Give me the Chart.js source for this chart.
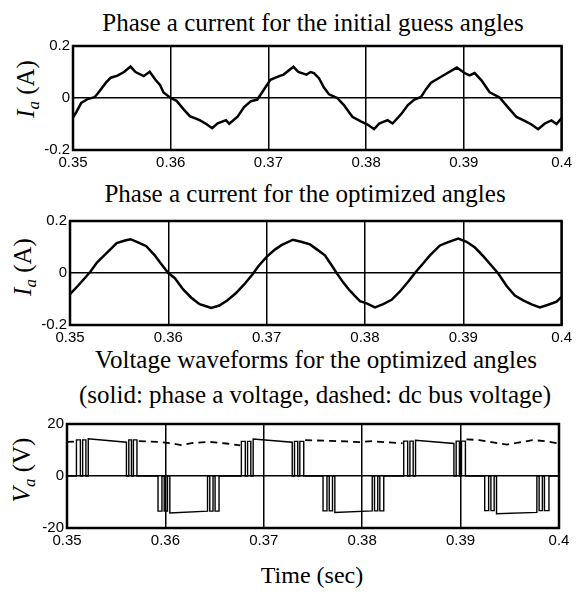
<!DOCTYPE html>
<html>
<head>
<meta charset="utf-8">
<script src="https://cdn.jsdelivr.net/npm/chart.js@4.4.1/dist/chart.umd.min.js"></script>
<style>
  html, body { margin: 0; padding: 0; background: #fff; }
  #page { position: relative; width: 576px; height: 594px; overflow: hidden; font-family: "Liberation Serif", serif; color: #000; }
  .title { position: absolute; width: 576px; text-align: center; font-size: 25px; line-height: 25px; white-space: nowrap; }
  .box { position: absolute; left: 0; width: 576px; height: 140px; }
  .ylab { position: absolute; font-size: 25px; line-height: 25px; white-space: nowrap; transform: translate(-50%, -50%) rotate(-90deg); }
  .ylab sub { font-size: 17px; vertical-align: -5px; line-height: 0; }
</style>
</head>
<body>
<div id="page">
  <div class="title" style="left:25px; top:10px;">Phase a current for the initial guess angles</div>
  <div class="title" style="left:17px; top:181px;">Phase a current for the optimized angles</div>
  <div class="title" style="left:28px; top:347px;">Voltage waveforms for the optimized angles</div>
  <div class="title" style="left:27px; top:382px;">(solid: phase a voltage, dashed: dc bus voltage)</div>
  <div class="title" style="left:24px; top:563px; font-size:24px; line-height:24px;">Time (sec)</div>

  <div class="ylab" style="left:25px; top:89px;"><i>I</i><sub><i>a</i></sub> (A)</div>
  <div class="ylab" style="left:22px; top:267px;"><i>I</i><sub><i>a</i></sub> (A)</div>
  <div class="ylab" style="left:21px; top:470px;"><i>V</i><sub><i>a</i></sub> (V)</div>

  <div class="box" style="top:34px;"><canvas id="c1" width="576" height="140"></canvas></div>
  <div class="box" style="top:209px;"><canvas id="c2" width="576" height="140"></canvas></div>
  <div class="box" style="top:412px;"><canvas id="c3" width="576" height="140"></canvas></div>
</div>

<script>
// --- Daten ---
const xTicks = [0.35, 0.36, 0.37, 0.38, 0.39, 0.4];
const iTicks = [-0.2, 0, 0.2];
const vTicks = [-20, 0, 20];

// Phase a current, initial guess angles
const guessT = [0.35000, 0.35034, 0.35084, 0.35150, 0.35220, 0.35253, 0.35337, 0.35387, 0.35455, 0.35522,
  0.35589, 0.35640, 0.35724, 0.35785, 0.35842, 0.35892, 0.35926, 0.36000, 0.36060, 0.36128,
  0.36195, 0.36296, 0.36364, 0.36424, 0.36481, 0.36566, 0.36599, 0.36684, 0.36751, 0.36818,
  0.36886, 0.36936, 0.37020, 0.37104, 0.37155, 0.37256, 0.37306, 0.37390, 0.37431, 0.37466,
  0.37517, 0.37568, 0.37620, 0.37705, 0.37774, 0.37859, 0.37945, 0.38014, 0.38082, 0.38134,
  0.38219, 0.38270, 0.38356, 0.38425, 0.38493, 0.38562, 0.38613, 0.38664, 0.38750, 0.38836,
  0.38928, 0.39007, 0.39058, 0.39110, 0.39178, 0.39264, 0.39366, 0.39452, 0.39538, 0.39623,
  0.39692, 0.39760, 0.39829, 0.39897, 0.39949, 0.40000];
const guessI = [-0.075, -0.054, -0.019, -0.004, 0.003, 0.017, 0.059, 0.078, 0.086, 0.100,
  0.121, 0.100, 0.084, 0.101, 0.071, 0.049, 0.021, 0.000, -0.011, -0.042,
  -0.070, -0.085, -0.100, -0.116, -0.097, -0.085, -0.099, -0.072, -0.035, -0.013,
  -0.006, 0.022, 0.070, 0.083, 0.090, 0.120, 0.100, 0.090, 0.100, 0.096,
  0.076, 0.040, 0.014, 0.000, -0.028, -0.072, -0.090, -0.102, -0.120, -0.098,
  -0.085, -0.098, -0.063, -0.028, -0.006, 0.004, 0.034, 0.059, 0.078, 0.097,
  0.117, 0.096, 0.087, 0.096, 0.069, 0.022, 0.002, -0.036, -0.073, -0.088,
  -0.102, -0.120, -0.098, -0.086, -0.100, -0.077];

// Phase a current, optimized angles
const optT = [0.35000, 0.35074, 0.35140, 0.35207, 0.35274, 0.35340, 0.35408, 0.35475, 0.35559, 0.35615,
  0.35692, 0.35776, 0.35860, 0.35926, 0.36000, 0.36067, 0.36151, 0.36234, 0.36318, 0.36385,
  0.36435, 0.36519, 0.36602, 0.36686, 0.36769, 0.36853, 0.36920, 0.37000, 0.37084, 0.37151,
  0.37268, 0.37351, 0.37441, 0.37525, 0.37593, 0.37661, 0.37712, 0.37780, 0.37847, 0.37949,
  0.38017, 0.38102, 0.38186, 0.38271, 0.38356, 0.38441, 0.38508, 0.38576, 0.38661, 0.38763,
  0.38847, 0.38949, 0.39034, 0.39119, 0.39203, 0.39288, 0.39356, 0.39441, 0.39525, 0.39610,
  0.39695, 0.39779, 0.39864, 0.39949, 0.40000];
const optI = [-0.081, -0.052, -0.024, 0.005, 0.040, 0.065, 0.090, 0.115, 0.125, 0.130,
  0.118, 0.103, 0.069, 0.036, 0.000, -0.020, -0.063, -0.095, -0.120, -0.128,
  -0.134, -0.125, -0.105, -0.078, -0.045, -0.007, 0.028, 0.062, 0.090, 0.107,
  0.128, 0.120, 0.110, 0.087, 0.068, 0.030, 0.000, -0.037, -0.068, -0.108,
  -0.117, -0.132, -0.120, -0.103, -0.071, -0.033, 0.000, 0.030, 0.068, 0.106,
  0.119, 0.132, 0.120, 0.098, 0.065, 0.028, -0.002, -0.050, -0.087, -0.105,
  -0.121, -0.132, -0.122, -0.110, -0.092];

// Phase a voltage: switching instants of each half cycle (s)
const vaSwitchTimes = [
  [0.35096, 0.35136, 0.35159, 0.35192, 0.35216, 0.35604, 0.35628, 0.35655, 0.35675, 0.35711],
  [0.35925, 0.35965, 0.35988, 0.36021, 0.36045, 0.36428, 0.36451, 0.36484, 0.36505, 0.36545],
  [0.36772, 0.36812, 0.36835, 0.36868, 0.36892, 0.37289, 0.37312, 0.37345, 0.37366, 0.37406],
  [0.37602, 0.37642, 0.37665, 0.37698, 0.37722, 0.38102, 0.38125, 0.38158, 0.38179, 0.38219],
  [0.38422, 0.38462, 0.38485, 0.38518, 0.38542, 0.38932, 0.38955, 0.38988, 0.39009, 0.39049],
  [0.39245, 0.39285, 0.39308, 0.39341, 0.39365, 0.39775, 0.39798, 0.39831, 0.39852, 0.39898]
];
const vaPulseLevel = [13.9, -13.5, 13.3, -13.4, 13.4, -13.3];
const vaPlateauStart = [14.3, -14.2, 14.2, -14.0, 13.7, -14.5];
const vaPlateauEnd = [13.0, -13.5, 13.0, -13.4, 12.5, -14.0];

// DC bus voltage (dashed), null = hidden behind the positive pulses
const busT = [0.3500, 0.3508, 0.3510, 0.3573, 0.3594, 0.3607, 0.3616, 0.3628, 0.3645, 0.3662, 0.3676,
  0.3700, 0.3742, 0.3767, 0.3784, 0.3797, 0.3810, 0.3828, 0.3841,
  0.3870, 0.3906, 0.3919, 0.3933, 0.3947, 0.3960, 0.3973, 0.3987, 0.4000];
const busV = [13.1, 13.2, null, 13.4, 13.1, 12.5, 11.9, 12.7, 13.1, 12.5, 11.8,
  null, 13.8, 13.5, 13.3, 13.0, 13.4, 12.9, 12.6,
  null, 14.1, 13.8, 12.9, 12.1, 12.9, 13.8, 13.4, 12.5];

// --- Hilfsfunktionen ---
function toPoints(xs, ys) {
  return xs.map((x, i) => ({ x: x, y: ys[i] }));
}

// Rechteckspannung aus Schaltzeitpunkten aufbauen
function buildVa() {
  const pts = [{ x: 0.35, y: 0 }];
  vaSwitchTimes.forEach((e, h) => {
    const p = vaPulseLevel[h];
    const a = [p, 0, p, 0, vaPlateauStart[h], 0, p, 0, p];
    const b = [p, 0, p, 0, vaPlateauEnd[h], 0, p, 0, p];
    pts.push({ x: e[0], y: 0 });
    for (let i = 0; i < 9; i++) {
      pts.push({ x: e[i], y: a[i] });
      pts.push({ x: e[i + 1], y: b[i] });
    }
    pts.push({ x: e[9], y: 0 });
  });
  pts.push({ x: 0.4, y: 0 });
  return pts;
}

const framePlugin = {
  id: 'frame',
  afterDraw(chart) {
    const { ctx, chartArea: a } = chart;
    ctx.save();
    ctx.strokeStyle = '#000';
    ctx.lineWidth = 2.5;
    ctx.strokeRect(a.left, a.top, a.right - a.left, a.bottom - a.top);
    ctx.restore();
  }
};

function makeChart(id, datasets, yTicks, areaLeft, areaRight) {
  const tickFont = { family: '"Liberation Sans", Arial, sans-serif', size: 15 };
  return new Chart(document.getElementById(id), {
    type: 'line',
    data: { datasets: datasets },
    options: {
      responsive: false,
      animation: false,
      events: [],
      layout: { padding: { left: 0, right: 576 - areaRight, top: 10, bottom: 0 } },
      plugins: { legend: { display: false }, tooltip: { enabled: false } },
      scales: {
        x: {
          type: 'linear',
          min: xTicks[0],
          max: xTicks[xTicks.length - 1],
          afterBuildTicks: s => { s.ticks = xTicks.map(v => ({ value: v })); },
          afterFit: s => { s.height = 24; },
          ticks: { color: '#000', font: tickFont, padding: 4, maxRotation: 0, autoSkip: false, callback: v => String(v) },
          grid: { color: '#000', lineWidth: 1.5, drawTicks: false },
          border: { display: false }
        },
        y: {
          type: 'linear',
          min: yTicks[0],
          max: yTicks[yTicks.length - 1],
          afterBuildTicks: s => { s.ticks = yTicks.map(v => ({ value: v })); },
          afterFit: s => { s.width = areaLeft; },
          ticks: { color: '#000', font: tickFont, padding: 3, callback: v => String(v) },
          grid: {
            color: c => (c.tick && c.tick.value === 0) ? '#000' : 'rgba(0,0,0,0)',
            lineWidth: 1.5,
            drawTicks: false
          },
          border: { display: false }
        }
      }
    },
    plugins: [framePlugin]
  });
}

const solidLine = { borderColor: '#000', borderWidth: 2.5, pointRadius: 0, tension: 0, fill: false };

makeChart('c1', [Object.assign({ data: toPoints(guessT, guessI) }, solidLine)], iTicks, 73, 565);
makeChart('c2', [Object.assign({ data: toPoints(optT, optI) }, solidLine)], iTicks, 70, 562);
makeChart('c3', [
  Object.assign({ data: toPoints(busT, busV), borderDash: [7, 5], spanGaps: false }, solidLine, { borderWidth: 1.8 }),
  Object.assign({ data: buildVa() }, solidLine, { borderWidth: 1.4 })
], vTicks, 67, 559);
</script>
</body>
</html>
